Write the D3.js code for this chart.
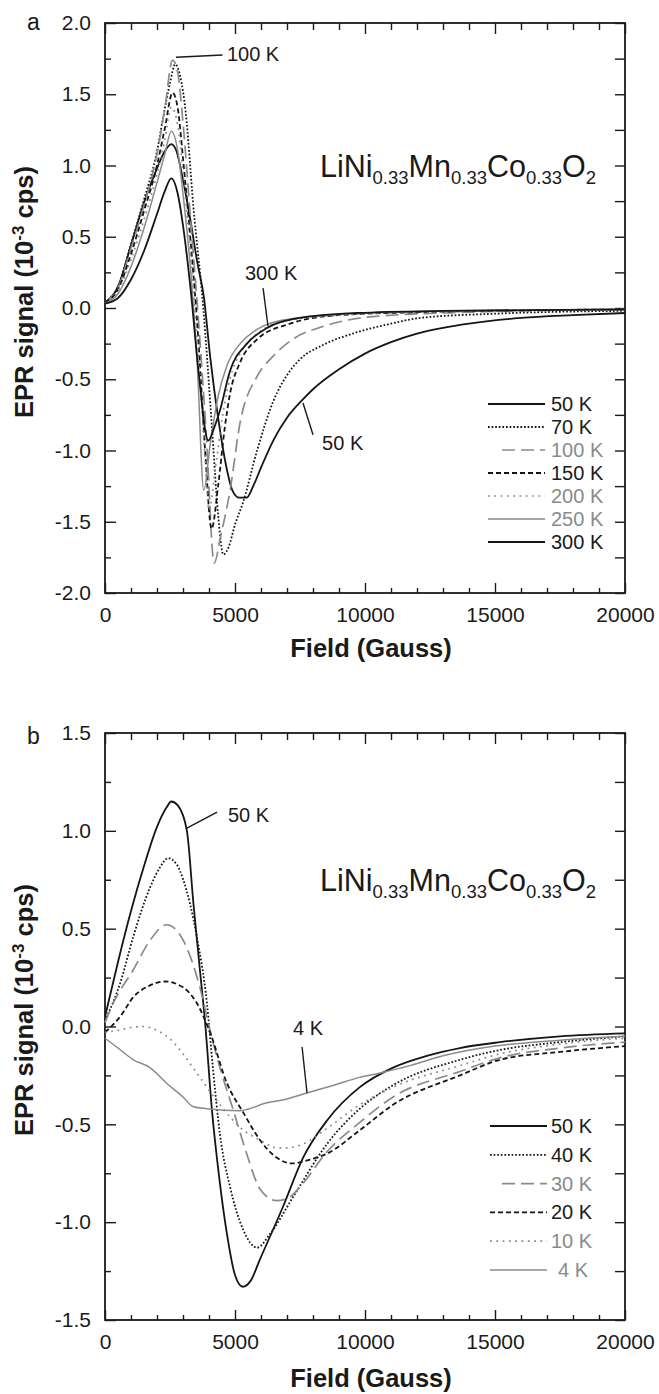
<!DOCTYPE html>
<html><head><meta charset="utf-8">
<script src="https://cdn.jsdelivr.net/npm/d3@7"></script>
<style>
body{margin:0;background:#fff}
svg{display:block}
text{font-family:"Liberation Sans",Arial,Helvetica,sans-serif;fill:#1a1a1a}
</style>
</head><body>
<svg id="c" width="659" height="1394"></svg>
<script>
// ---------- data ----------
const fieldTicks = [0, 5000, 10000, 15000, 20000];
const fieldMinor = [1000,2000,3000,4000,6000,7000,8000,9000,11000,12000,13000,14000,16000,17000,18000,19000];
const signalTicksA = [-2.0, -1.5, -1.0, -0.5, 0.0, 0.5, 1.0, 1.5, 2.0];
const signalTicksB = [-1.5, -1.0, -0.5, 0.0, 0.5, 1.0, 1.5];

const seriesNamesA = ["50 K", "70 K", "100 K", "150 K", "200 K", "250 K", "300 K"];
const seriesNamesB = ["50 K", "40 K", "30 K", "20 K", "10 K", "4 K"];

// Panel a: [field (G), EPR signal (1e-3 cps)]
const a50K = [[0,0.04],[500,0.15],[1000,0.44],[1500,0.74],[2000,0.98],[2300,1.10],[2550,1.15],[2750,1.10],[3000,0.90],[3300,0.60],[3550,0.32],[3800,0.08],[4050,-0.35],[4350,-0.77],[4650,-1.10],[4900,-1.28],[5150,-1.33],[5450,-1.33],[5700,-1.25],[6000,-1.12],[6500,-0.92],[7000,-0.77],[7620,-0.64],[8000,-0.57],[9000,-0.43],[10000,-0.32],[11000,-0.24],[12000,-0.18],[13000,-0.14],[14000,-0.11],[16000,-0.07],[18000,-0.05],[20000,-0.035]];
const a70K = [[0,0.04],[500,0.15],[1000,0.45],[1500,0.76],[2000,1.10],[2250,1.35],[2500,1.58],[2700,1.71],[2900,1.62],[3100,1.38],[3400,0.71],[3780,0.0],[4100,-0.80],[4350,-1.45],[4550,-1.73],[4750,-1.68],[5000,-1.52],[5300,-1.37],[5850,-1.00],[6460,-0.66],[7120,-0.44],[7500,-0.36],[8380,-0.26],[9700,-0.17],[11000,-0.11],[12100,-0.07],[15000,-0.04],[20000,-0.02]];
const a100K = [[0,0.04],[500,0.14],[1000,0.42],[1500,0.72],[2000,1.08],[2300,1.40],[2600,1.74],[2800,1.65],[3000,1.30],[3300,0.60],[3600,-0.10],[3900,-0.90],[4200,-1.79],[4450,-1.60],[4810,-1.28],[5190,-0.81],[5850,-0.48],[6460,-0.34],[7300,-0.21],[8380,-0.13],[10300,-0.06],[14000,-0.03],[20000,-0.01]];
const a150K = [[0,0.04],[500,0.13],[1000,0.38],[1500,0.68],[2000,1.00],[2300,1.26],[2600,1.51],[2800,1.40],[3000,1.05],[3300,0.45],[3600,-0.25],[3850,-1.00],[4100,-1.55],[4350,-1.25],[4600,-0.85],[4810,-0.60],[5200,-0.38],[5850,-0.22],[7120,-0.11],[9000,-0.05],[12000,-0.03],[20000,-0.01]];
const a200K = [[0,0.035],[500,0.12],[1000,0.34],[1500,0.62],[2000,0.94],[2300,1.18],[2550,1.41],[2800,1.28],[3000,0.95],[3300,0.35],[3600,-0.35],[3850,-1.05],[4000,-1.42],[4250,-1.12],[4500,-0.78],[4800,-0.50],[5200,-0.32],[5850,-0.18],[7000,-0.09],[9000,-0.05],[12000,-0.03],[20000,-0.01]];
const a250K = [[0,0.03],[500,0.10],[1000,0.29],[1500,0.56],[2000,0.88],[2300,1.08],[2550,1.24],[2800,1.10],[3000,0.80],[3300,0.25],[3550,-0.40],[3800,-1.28],[4050,-0.95],[4350,-0.62],[4700,-0.40],[5200,-0.25],[5850,-0.15],[7000,-0.08],[9000,-0.045],[12000,-0.025],[20000,-0.01]];
const a300K = [[0,0.03],[500,0.07],[1000,0.20],[1500,0.40],[2000,0.66],[2300,0.82],[2550,0.91],[2800,0.80],[3000,0.58],[3300,0.12],[3600,-0.45],[3970,-0.93],[4200,-0.84],[4420,-0.72],[4810,-0.44],[5460,-0.25],[6230,-0.14],[7500,-0.07],[9700,-0.035],[13000,-0.02],[20000,-0.01]];

// Panel b
const b50K = [[0,0.05],[500,0.33],[1000,0.59],[1500,0.82],[2000,1.02],[2370,1.12],[2550,1.15],[2800,1.13],[3150,1.00],[3400,0.63],[3650,0.29],[3850,0.02],[4115,-0.43],[4400,-0.78],[4690,-1.06],[5000,-1.27],[5300,-1.33],[5600,-1.30],[5960,-1.19],[6850,-0.92],[7620,-0.67],[8540,-0.48],[9800,-0.31],[11080,-0.21],[12380,-0.15],[13650,-0.11],[15190,-0.08],[17500,-0.05],[20000,-0.035]];
const b40K = [[0,0.03],[580,0.22],[1090,0.46],[1730,0.71],[2100,0.81],[2430,0.86],[2750,0.83],[3010,0.75],[3530,0.46],[3920,0.12],[4150,-0.21],[4420,-0.55],[4810,-0.82],[5320,-1.04],[5850,-1.13],[6350,-1.06],[7240,-0.87],[8540,-0.60],[9800,-0.42],[11080,-0.30],[13650,-0.17],[15190,-0.12],[17500,-0.08],[20000,-0.05]];
const b30K = [[0,0.02],[320,0.12],[1090,0.29],[1730,0.44],[2370,0.52],[3010,0.44],[3650,0.20],[4040,-0.02],[4420,-0.21],[4940,-0.43],[5450,-0.65],[5960,-0.83],[6600,-0.89],[7000,-0.88],[7500,-0.82],[8540,-0.64],[9800,-0.49],[11080,-0.36],[13650,-0.23],[15190,-0.16],[17500,-0.11],[20000,-0.08]];
const b20K = [[0,-0.03],[580,0.05],[1090,0.15],[1730,0.21],[2310,0.23],[3000,0.20],[3530,0.12],[4040,-0.03],[4690,-0.29],[5320,-0.44],[5960,-0.58],[6600,-0.67],[7200,-0.70],[7880,-0.68],[8540,-0.65],[9800,-0.53],[11080,-0.40],[13650,-0.25],[15190,-0.17],[17500,-0.13],[20000,-0.10]];
const b10K = [[0,-0.03],[500,-0.02],[1000,-0.005],[1450,0.0],[2000,-0.02],[2630,-0.08],[3000,-0.14],[3650,-0.26],[4420,-0.40],[5320,-0.53],[5960,-0.58],[6600,-0.62],[7000,-0.62],[7620,-0.60],[8540,-0.52],[9800,-0.40],[11080,-0.31],[13650,-0.20],[15190,-0.14],[17500,-0.09],[20000,-0.06]];
const b4K = [[0,-0.06],[500,-0.11],[1090,-0.17],[1730,-0.21],[2370,-0.29],[3000,-0.36],[3400,-0.41],[3920,-0.42],[5190,-0.43],[6230,-0.39],[7000,-0.37],[7770,-0.34],[8800,-0.30],[9800,-0.26],[10500,-0.24],[11730,-0.20],[13000,-0.15],[15000,-0.10],[17500,-0.07],[20000,-0.05]];

const dataA = [a50K, a70K, a100K, a150K, a200K, a250K, a300K];
const dataB = [b50K, b40K, b30K, b20K, b10K, b4K];

// ---------- styles ----------
const styles = {
  solid:     {stroke:"#151515", dash:null,      w:1.8, label:"#1a1a1a"},
  dotted:    {stroke:"#151515", dash:"1.7,1.9", w:1.8, label:"#1a1a1a"},
  longdash:  {stroke:"#8a8a8a", dash:"13,6",    w:1.7, label:"#8a8a8a"},
  dashed:    {stroke:"#151515", dash:"5,3",     w:1.8, label:"#1a1a1a"},
  graydot:   {stroke:"#8a8a8a", dash:"1.8,4.5", w:1.7, label:"#8a8a8a"},
  graysolid: {stroke:"#8a8a8a", dash:null,      w:1.5, label:"#8a8a8a"}
};
const styleA = ["solid","dotted","longdash","dashed","graydot","graysolid","solid"];
const styleB = ["solid","dotted","longdash","dashed","graydot","graysolid"];

const svg = d3.select("#c");

function drawPanel(cfg){
  const x = d3.scaleLinear().domain([0,20000]).range([105,625]);
  const y = d3.scaleLinear().domain(cfg.yDomain).range([cfg.bottom, cfg.top]);
  const g = svg.append("g");
  const [y0,y1] = cfg.yDomain;
  const yAll = d3.range(Math.round(y0*4), Math.round(y1*4)+1).map(d=>d/4);
  const yMinor = yAll.filter(v=>Math.abs(v*2-Math.round(v*2))>1e-6);

  function styleAxis(sel){
    sel.select(".domain").remove();
    sel.selectAll(".tick line").attr("stroke","#1a1a1a").attr("stroke-width",1.4);
    sel.selectAll("text").attr("font-size",21).attr("fill","#1a1a1a").attr("font-family",'"Liberation Sans",Arial,sans-serif');
  }
  // bottom
  g.append("g").attr("transform",`translate(0,${cfg.bottom})`)
    .call(d3.axisBottom(x).tickValues(fieldTicks).tickSize(-10).tickPadding(14).tickFormat(d=>String(d)))
    .call(styleAxis);
  g.append("g").attr("transform",`translate(0,${cfg.bottom})`)
    .call(d3.axisBottom(x).tickValues(fieldMinor).tickSize(-5).tickFormat(""))
    .call(styleAxis);
  // top
  g.append("g").attr("transform",`translate(0,${cfg.top})`)
    .call(d3.axisTop(x).tickValues(fieldTicks).tickSize(-11).tickFormat(""))
    .call(styleAxis);
  g.append("g").attr("transform",`translate(0,${cfg.top})`)
    .call(d3.axisTop(x).tickValues(fieldMinor).tickSize(-7).tickFormat(""))
    .call(styleAxis);
  // left
  g.append("g").attr("transform",`translate(105,0)`)
    .call(d3.axisLeft(y).tickValues(cfg.yTicks).tickSize(-11).tickPadding(14).tickFormat(d=>d.toFixed(1)))
    .call(styleAxis);
  g.append("g").attr("transform",`translate(105,0)`)
    .call(d3.axisLeft(y).tickValues(yMinor).tickSize(-6).tickFormat(""))
    .call(styleAxis);
  // right
  g.append("g").attr("transform",`translate(625,0)`)
    .call(d3.axisRight(y).tickValues(yAll).tickSize(-10).tickFormat(""))
    .call(styleAxis);
  // frame
  g.append("rect").attr("x",105).attr("y",cfg.top).attr("width",520).attr("height",cfg.bottom-cfg.top)
    .attr("fill","none").attr("stroke","#1a1a1a").attr("stroke-width",1.8);

  // curves
  const line = d3.line().x(d=>x(d[0])).y(d=>y(d[1])).curve(d3.curveMonotoneX);
  cfg.data.forEach((pts,i)=>{
    const st = styles[cfg.styles[i]];
    g.append("path").datum(pts).attr("d",line).attr("fill","none")
      .attr("stroke",st.stroke).attr("stroke-width",st.w)
      .attr("stroke-dasharray",st.dash).attr("stroke-linejoin","round");
  });

  // annotations
  cfg.ann.forEach(a=>{
    g.append("line").attr("x1",x(a.line[0][0])).attr("y1",y(a.line[0][1]))
      .attr("x2",x(a.line[1][0])).attr("y2",y(a.line[1][1]))
      .attr("stroke","#1a1a1a").attr("stroke-width",1.4);
    g.append("text").attr("x",x(a.at[0])).attr("y",y(a.at[1])).attr("dy","0.35em")
      .attr("font-size",20).text(a.text);
  });

  // compound label
  const t = g.append("text").attr("x",x(cfg.comp[0])).attr("y",y(cfg.comp[1])).attr("font-size",30.5);
  const parts = [["LiNi",0],["0.33",1],["Mn",0],["0.33",1],["Co",0],["0.33",1],["O",0],["2",1]];
  let shifted = false;
  parts.forEach(([s,sub])=>{
    const ts = t.append("tspan").text(s);
    if(sub && !shifted){ ts.attr("dy",7).attr("font-size",18.5); shifted=true; }
    else if(sub){ ts.attr("font-size",18.5); }
    else if(shifted){ ts.attr("dy",-7); shifted=false; }
  });

  // legend
  cfg.names.forEach((n,i)=>{
    const st = styles[cfg.styles[i]];
    const ly = cfg.legY + i*cfg.legDy;
    const lx1 = cfg.styles[i]==="longdash" ? 502 : cfg.legX1;
    g.append("line").attr("x1",lx1).attr("x2",cfg.legX2).attr("y1",ly).attr("y2",ly)
      .attr("stroke",st.stroke).attr("stroke-width",st.w).attr("stroke-dasharray",st.dash);
    g.append("text").attr("x", n.length<4 ? 558 : 551).attr("y",ly).attr("dy","0.35em")
      .attr("font-size",20).style("fill",st.label).text(n);
  });

  // axis titles
  const yt = svg.append("text").attr("transform",`translate(33,${cfg.yTitleY}) rotate(-90)`)
    .attr("text-anchor","middle").attr("font-size",25.5).attr("font-weight","bold");
  yt.append("tspan").text("EPR signal (10");
  yt.append("tspan").attr("font-size",17).attr("dy",-9).text("-3");
  yt.append("tspan").attr("dy",9).text(" cps)");
  svg.append("text").attr("x",371).attr("y",cfg.xTitleY).attr("text-anchor","middle")
    .attr("font-size",25.5).attr("font-weight","bold").text("Field (Gauss)");
  svg.append("text").attr("x",27).attr("y",cfg.panelY).attr("font-size",23).text(cfg.panel);
}

drawPanel({
  top:23, bottom:593, yDomain:[-2,2], yTicks:signalTicksA,
  data:dataA, styles:styleA, names:seriesNamesA,
  ann:[
    {text:"100 K", line:[[2730,1.76],[4520,1.775]], at:[4690,1.78]},
    {text:"300 K", line:[[6080,0.14],[6270,-0.13]], at:[5385,0.246]},
    {text:"50 K",  line:[[7615,-0.667],[8000,-0.89]], at:[8350,-0.947]}
  ],
  comp:[8270,0.92],
  legY:404, legDy:23, legX1:488, legX2:545,
  yTitleY:292, xTitleY:657, panel:"a", panelY:30
});
drawPanel({
  top:733, bottom:1320, yDomain:[-1.5,1.5], yTicks:signalTicksB,
  data:dataB, styles:styleB, names:seriesNamesB,
  ann:[
    {text:"50 K", line:[[3150,1.014],[4310,1.096]], at:[4730,1.08]},
    {text:"4 K",  line:[[7580,-0.105],[7770,-0.34]], at:[7230,-0.008]}
  ],
  comp:[8270,0.69],
  legY:1126, legDy:28.8, legX1:490, legX2:547,
  yTitleY:1010, xTitleY:1387, panel:"b", panelY:744
});
</script>
</body></html>
